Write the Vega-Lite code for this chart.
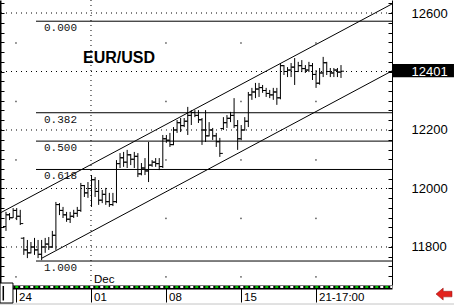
{
  "$schema": "https://vega.github.io/schema/vega-lite/v6.json",
  "width": 392,
  "height": 285,
  "autosize": "none",
  "padding": {"left": 0, "top": 0, "right": 62, "bottom": 20},
  "background": "white",
  "config": {"view": {"stroke": null}},
  "datasets": {
    "ohlc": [
      {"i":0,"o":11870,"h":11920,"l":11855,"c":11910},
      {"i":1,"o":11910,"h":11916,"l":11892,"c":11900},
      {"i":2,"o":11900,"h":11933,"l":11899,"c":11925},
      {"i":3,"o":11925,"h":11933,"l":11892,"c":11905},
      {"i":4,"o":11905,"h":11927,"l":11875,"c":11880},
      {"i":5,"o":11830,"h":11834,"l":11773,"c":11790},
      {"i":6,"o":11790,"h":11824,"l":11762,"c":11780},
      {"i":7,"o":11780,"h":11817,"l":11778,"c":11800},
      {"i":8,"o":11800,"h":11831,"l":11773,"c":11790},
      {"i":9,"o":11790,"h":11824,"l":11762,"c":11775},
      {"i":10,"o":11775,"h":11824,"l":11755,"c":11800},
      {"i":11,"o":11800,"h":11831,"l":11780,"c":11810},
      {"i":12,"o":11810,"h":11834,"l":11790,"c":11800},
      {"i":13,"o":11800,"h":11855,"l":11797,"c":11840},
      {"i":14,"o":11840,"h":11954,"l":11790,"c":11945},
      {"i":15,"o":11945,"h":11950,"l":11909,"c":11925},
      {"i":16,"o":11925,"h":11937,"l":11899,"c":11910},
      {"i":17,"o":11910,"h":11920,"l":11886,"c":11895},
      {"i":18,"o":11895,"h":11920,"l":11882,"c":11905},
      {"i":19,"o":11905,"h":11927,"l":11899,"c":11915},
      {"i":20,"o":11915,"h":11937,"l":11903,"c":11925},
      {"i":21,"o":11925,"h":12019,"l":11920,"c":12010},
      {"i":22,"o":12010,"h":12012,"l":11971,"c":11985},
      {"i":23,"o":11985,"h":12022,"l":11968,"c":12000},
      {"i":24,"o":12000,"h":12046,"l":11937,"c":12030},
      {"i":25,"o":12030,"h":12039,"l":11971,"c":11990},
      {"i":26,"o":11990,"h":12029,"l":11944,"c":11960},
      {"i":27,"o":11960,"h":11995,"l":11950,"c":11980},
      {"i":28,"o":11980,"h":12002,"l":11944,"c":11955},
      {"i":29,"o":11955,"h":11985,"l":11937,"c":11945},
      {"i":30,"o":11945,"h":11985,"l":11940,"c":11955},
      {"i":31,"o":11955,"h":12097,"l":11950,"c":12085},
      {"i":32,"o":12085,"h":12121,"l":12070,"c":12105},
      {"i":33,"o":12105,"h":12125,"l":12074,"c":12090},
      {"i":34,"o":12090,"h":12132,"l":12070,"c":12115},
      {"i":35,"o":12115,"h":12118,"l":12080,"c":12100},
      {"i":36,"o":12100,"h":12125,"l":12070,"c":12110},
      {"i":37,"o":12110,"h":12121,"l":12039,"c":12050},
      {"i":38,"o":12050,"h":12087,"l":12045,"c":12070},
      {"i":39,"o":12070,"h":12104,"l":12046,"c":12060},
      {"i":40,"o":12060,"h":12159,"l":12022,"c":12080},
      {"i":41,"o":12080,"h":12097,"l":12074,"c":12090},
      {"i":42,"o":12090,"h":12104,"l":12074,"c":12085},
      {"i":43,"o":12085,"h":12104,"l":12063,"c":12075},
      {"i":44,"o":12075,"h":12183,"l":12070,"c":12170},
      {"i":45,"o":12170,"h":12183,"l":12156,"c":12165},
      {"i":46,"o":12165,"h":12190,"l":12142,"c":12150},
      {"i":47,"o":12150,"h":12210,"l":12148,"c":12200},
      {"i":48,"o":12200,"h":12234,"l":12190,"c":12225},
      {"i":49,"o":12225,"h":12241,"l":12193,"c":12215},
      {"i":50,"o":12215,"h":12241,"l":12210,"c":12230},
      {"i":51,"o":12230,"h":12279,"l":12183,"c":12250},
      {"i":52,"o":12250,"h":12268,"l":12217,"c":12260},
      {"i":53,"o":12260,"h":12268,"l":12244,"c":12250},
      {"i":54,"o":12250,"h":12268,"l":12224,"c":12235},
      {"i":55,"o":12235,"h":12241,"l":12149,"c":12200},
      {"i":56,"o":12200,"h":12268,"l":12159,"c":12180},
      {"i":57,"o":12180,"h":12227,"l":12178,"c":12200},
      {"i":58,"o":12200,"h":12207,"l":12166,"c":12180},
      {"i":59,"o":12180,"h":12190,"l":12142,"c":12160},
      {"i":60,"o":12160,"h":12173,"l":12108,"c":12120},
      {"i":61,"o":12205,"h":12244,"l":12200,"c":12225},
      {"i":62,"o":12225,"h":12251,"l":12207,"c":12240},
      {"i":63,"o":12240,"h":12262,"l":12227,"c":12250},
      {"i":64,"o":12250,"h":12309,"l":12207,"c":12215},
      {"i":65,"o":12215,"h":12234,"l":12132,"c":12170},
      {"i":66,"o":12170,"h":12217,"l":12165,"c":12200},
      {"i":67,"o":12200,"h":12244,"l":12198,"c":12230},
      {"i":68,"o":12230,"h":12330,"l":12210,"c":12320},
      {"i":69,"o":12320,"h":12344,"l":12303,"c":12330},
      {"i":70,"o":12330,"h":12361,"l":12309,"c":12340},
      {"i":71,"o":12340,"h":12361,"l":12313,"c":12345},
      {"i":72,"o":12345,"h":12354,"l":12327,"c":12335},
      {"i":73,"o":12335,"h":12344,"l":12313,"c":12325},
      {"i":74,"o":12325,"h":12337,"l":12309,"c":12320},
      {"i":75,"o":12320,"h":12344,"l":12303,"c":12330},
      {"i":76,"o":12330,"h":12344,"l":12286,"c":12310},
      {"i":77,"o":12310,"h":12429,"l":12305,"c":12420},
      {"i":78,"o":12420,"h":12422,"l":12388,"c":12400},
      {"i":79,"o":12400,"h":12415,"l":12381,"c":12405},
      {"i":80,"o":12405,"h":12429,"l":12381,"c":12415},
      {"i":81,"o":12415,"h":12446,"l":12354,"c":12400},
      {"i":82,"o":12400,"h":12433,"l":12398,"c":12420},
      {"i":83,"o":12420,"h":12439,"l":12398,"c":12410},
      {"i":84,"o":12410,"h":12422,"l":12395,"c":12405},
      {"i":85,"o":12405,"h":12433,"l":12398,"c":12420},
      {"i":86,"o":12420,"h":12429,"l":12371,"c":12390},
      {"i":87,"o":12390,"h":12405,"l":12344,"c":12360},
      {"i":88,"o":12360,"h":12412,"l":12355,"c":12395},
      {"i":89,"o":12395,"h":12450,"l":12381,"c":12430},
      {"i":90,"o":12430,"h":12433,"l":12388,"c":12400},
      {"i":91,"o":12400,"h":12412,"l":12381,"c":12395},
      {"i":92,"o":12395,"h":12412,"l":12381,"c":12405},
      {"i":93,"o":12405,"h":12412,"l":12381,"c":12398},
      {"i":94,"o":12398,"h":12422,"l":12378,"c":12401}
    ],
    "grid": [{"v":11800},{"v":12000},{"v":12200},{"v":12400},{"v":12600}],
    "monthline": [{"i":23.85}],
    "weeklines": [{"i":2.806},{"i":44.89},{"i":65.94},{"i":86.98}],
    "fib": [
      {"x1":8.42,"x2":108.31,"v":12572,"label":"0.000"},
      {"x1":8.42,"x2":108.31,"v":12259,"label":"0.382"},
      {"x1":8.42,"x2":108.31,"v":12162,"label":"0.500"},
      {"x1":8.42,"x2":108.31,"v":12065,"label":"0.618"},
      {"x1":8.42,"x2":108.31,"v":11752,"label":"1.000"}
    ],
    "channel": [
      {"x1":-1.683,"y1":11916,"x2":108.31,"y2":12631},
      {"x1":10.1,"y1":11762,"x2":108.31,"y2":12402}
    ],
    "title": [{"i":21.6,"v":12429,"label":"EUR/USD"}],
    "month": [{"i":24.69,"v":11677,"label":"Dec"}],
    "pricebox": [{"x1":108.35,"x2":125.7,"y1":12380.2,"y2":12425.7}],
    "scrollbox": [{"x1":-1.683,"x2":1.96,"y1":11608.4,"y2":11676.8}],
    "arrow": [{"i":122.9,"v":11639}]
  },
  "layer": [
    {
      "data": {"name": "grid"},
      "mark": {"type": "rule", "stroke": "black", "strokeWidth": 1, "strokeDash": [1, 4]},
      "encoding": {
        "y": {"field": "v", "type": "quantitative",
          "scale": {"domain": [11670, 12644.5], "nice": false, "zero": false},
          "axis": {"orient": "left", "title": null, "labels": false, "grid": false,
            "domain": true, "domainColor": "black", "domainWidth": 2,
            "ticks": true, "tickColor": "black", "tickSize": -4,
            "values": [11700,11733.3,11766.7,11800,11833.3,11866.7,11900,11933.3,11966.7,12000,12033.3,12066.7,12100,12133.3,12166.7,12200,12233.3,12266.7,12300,12333.3,12366.7,12400,12433.3,12466.7,12500,12533.3,12566.7,12600,12633.3]}}
      }
    },
    {
      "data": {"name": "monthline"},
      "mark": {"type": "rule", "stroke": "black", "strokeWidth": 1, "strokeDash": [1, 4]},
      "encoding": {
        "x": {"field": "i", "type": "quantitative",
          "scale": {"domain": [-1.683, 108.31], "nice": false, "zero": false},
          "axis": {"orient": "bottom", "title": null, "grid": false, "offset": 2,
            "domain": true, "domainColor": "black", "domainWidth": 4,
            "ticks": true, "tickColor": "black", "tickSize": 15, "tickWidth": 1,
            "values": [2.806, 23.85, 44.89, 65.94, 86.98],
            "labelExpr": "datum.value < 5 ? '24' : datum.value < 30 ? '01' : datum.value < 50 ? '08' : datum.value < 70 ? '15' : '21-17:00'",
            "labelAlign": "left", "labelBaseline": "top", "labelPadding": -11, "labelOffset": 2.5,
            "labelFont": "Liberation Sans", "labelFontSize": 11.5, "labelColor": "black",
            "labelOverlap": false, "labelFlush": false, "labelBound": false}}
      }
    },
    {
      "data": {"name": "weeklines"},
      "mark": {"type": "rule", "stroke": "black", "strokeWidth": 1, "strokeDash": [1.5, 56.97]},
      "encoding": {
        "x": {"field": "i", "type": "quantitative",
          "scale": {"domain": [-1.683, 108.31], "nice": false, "zero": false}, "axis": null},
        "y": {"datum": 12500, "type": "quantitative", "scale": {"domain": [11670, 12644.5], "nice": false, "zero": false}, "axis": null},
        "y2": {"datum": 11690}
      }
    },
    {
      "data": {"name": "fib"},
      "mark": {"type": "rule", "stroke": "black", "strokeWidth": 1},
      "encoding": {
        "x": {"field": "x1", "type": "quantitative",
          "scale": {"domain": [-1.683, 108.31], "nice": false, "zero": false}, "axis": null},
        "x2": {"field": "x2"},
        "y": {"field": "v", "type": "quantitative", "scale": {"domain": [11670, 12644.5], "nice": false, "zero": false}, "axis": null}
      }
    },
    {
      "data": {"name": "fib"},
      "mark": {"type": "text", "font": "Liberation Mono", "fontSize": 11, "fill": "#111", "align": "left", "baseline": "top", "dx": 8, "dy": 1},
      "encoding": {
        "x": {"field": "x1", "type": "quantitative",
          "scale": {"domain": [-1.683, 108.31], "nice": false, "zero": false}, "axis": null},
        "y": {"field": "v", "type": "quantitative", "scale": {"domain": [11670, 12644.5], "nice": false, "zero": false}, "axis": null},
        "text": {"field": "label"}
      }
    },
    {
      "data": {"name": "channel"},
      "mark": {"type": "rule", "stroke": "black", "strokeWidth": 1},
      "encoding": {
        "x": {"field": "x1", "type": "quantitative",
          "scale": {"domain": [-1.683, 108.31], "nice": false, "zero": false}, "axis": null},
        "x2": {"field": "x2"},
        "y": {"field": "y1", "type": "quantitative", "scale": {"domain": [11670, 12644.5], "nice": false, "zero": false}, "axis": null},
        "y2": {"field": "y2"}
      }
    },
    {
      "data": {"name": "ohlc"},
      "mark": {"type": "rule", "stroke": "black", "strokeWidth": 1},
      "encoding": {
        "x": {"field": "i", "type": "quantitative",
          "scale": {"domain": [-1.683, 108.31], "nice": false, "zero": false}, "axis": null},
        "y": {"field": "l", "type": "quantitative",
          "scale": {"domain": [11670, 12644.5], "nice": false, "zero": false},
          "axis": {"orient": "right", "title": null, "grid": false, "zindex": 1,
            "domain": true, "domainColor": "black", "domainWidth": 1,
            "ticks": true, "tickColor": "black", "tickSize": -4,
            "values": [11700,11733.3,11766.7,11800,11833.3,11866.7,11900,11933.3,11966.7,12000,12033.3,12066.7,12100,12133.3,12166.7,12200,12233.3,12266.7,12300,12333.3,12366.7,12400,12401,12433.3,12466.7,12500,12533.3,12566.7,12600,12633.3],
            "format": "d",
            "labelExpr": "indexof([11800, 12000, 12200, 12600, 12401], datum.value) >= 0 ? datum.label : ''",
            "labelFont": "Liberation Sans", "labelFontSize": 13, "labelPadding": 23,
            "labelAlign": "left", "labelBaseline": "middle",
            "labelColor": {"condition": {"test": "datum.value === 12401", "value": "white"}, "value": "black"},
            "labelOverlap": false, "labelFlush": false, "labelBound": false}},
        "y2": {"field": "h"}
      }
    },
    {
      "data": {"name": "ohlc"},
      "mark": {"type": "tick", "orient": "horizontal", "color": "black", "size": 3, "thickness": 1, "xOffset": -1.5, "opacity": 1},
      "encoding": {
        "x": {"field": "i", "type": "quantitative", "scale": {"domain": [-1.683, 108.31], "nice": false, "zero": false}, "axis": null},
        "y": {"field": "o", "type": "quantitative", "scale": {"domain": [11670, 12644.5], "nice": false, "zero": false}, "axis": null}
      }
    },
    {
      "data": {"name": "ohlc"},
      "mark": {"type": "tick", "orient": "horizontal", "color": "black", "size": 3, "thickness": 1, "xOffset": 1.5, "opacity": 1},
      "encoding": {
        "x": {"field": "i", "type": "quantitative", "scale": {"domain": [-1.683, 108.31], "nice": false, "zero": false}, "axis": null},
        "y": {"field": "c", "type": "quantitative", "scale": {"domain": [11670, 12644.5], "nice": false, "zero": false}, "axis": null}
      }
    },
    {
      "data": {"name": "title"},
      "mark": {"type": "text", "font": "Liberation Sans", "fontWeight": "bold", "fontSize": 16, "fill": "black", "align": "left", "baseline": "alphabetic"},
      "encoding": {
        "x": {"field": "i", "type": "quantitative", "scale": {"domain": [-1.683, 108.31], "nice": false, "zero": false}, "axis": null},
        "y": {"field": "v", "type": "quantitative", "scale": {"domain": [11670, 12644.5], "nice": false, "zero": false}, "axis": null},
        "text": {"field": "label"}
      }
    },
    {
      "data": {"name": "month"},
      "mark": {"type": "text", "font": "Liberation Sans", "fontSize": 11.5, "fill": "black", "align": "left", "baseline": "alphabetic"},
      "encoding": {
        "x": {"field": "i", "type": "quantitative", "scale": {"domain": [-1.683, 108.31], "nice": false, "zero": false}, "axis": null},
        "y": {"field": "v", "type": "quantitative", "scale": {"domain": [11670, 12644.5], "nice": false, "zero": false}, "axis": null},
        "text": {"field": "label"}
      }
    },
    {
      "data": {"values": [{"k": 1}]},
      "mark": {"type": "rule", "stroke": "white", "strokeWidth": 2, "strokeDash": [3, 7], "strokeCap": "butt"},
      "encoding": {
        "x": {"datum": 1.2, "type": "quantitative", "scale": {"domain": [-1.683, 108.31], "nice": false, "zero": false}, "axis": null},
        "x2": {"datum": 108.31},
        "y": {"datum": 11663.2, "type": "quantitative", "scale": {"domain": [11670, 12644.5], "nice": false, "zero": false}, "axis": null}
      }
    },
    {
      "data": {"values": [{"k": 1}]},
      "mark": {"type": "rule", "stroke": "#00d000", "strokeWidth": 2, "strokeDash": [3, 7], "strokeDashOffset": -5, "strokeCap": "butt"},
      "encoding": {
        "x": {"datum": 1.2, "type": "quantitative", "scale": {"domain": [-1.683, 108.31], "nice": false, "zero": false}, "axis": null},
        "x2": {"datum": 108.31},
        "y": {"datum": 11663.2, "type": "quantitative", "scale": {"domain": [11670, 12644.5], "nice": false, "zero": false}, "axis": null}
      }
    },
    {
      "data": {"values": [{"k": 1}]},
      "mark": {"type": "rule", "stroke": "#c4c4c4", "strokeWidth": 1},
      "encoding": {
        "x": {"datum": -1.683, "type": "quantitative", "scale": {"domain": [-1.683, 108.31], "nice": false, "zero": false}, "axis": null},
        "x2": {"datum": 125.7},
        "y": {"datum": 11605, "type": "quantitative", "scale": {"domain": [11670, 12644.5], "nice": false, "zero": false}, "axis": null}
      }
    },
    {
      "data": {"name": "scrollbox"},
      "mark": {"type": "rect", "fill": "white", "stroke": "black", "strokeWidth": 1},
      "encoding": {
        "x": {"field": "x1", "type": "quantitative", "scale": {"domain": [-1.683, 108.31], "nice": false, "zero": false}, "axis": null},
        "x2": {"field": "x2"},
        "y": {"field": "y1", "type": "quantitative", "scale": {"domain": [11670, 12644.5], "nice": false, "zero": false}, "axis": null},
        "y2": {"field": "y2"}
      }
    },
    {
      "data": {"values": [{"k": 1}]},
      "mark": {"type": "rule", "stroke": "black", "strokeWidth": 1.5},
      "encoding": {
        "x": {"datum": -0.76, "type": "quantitative", "scale": {"domain": [-1.683, 108.31], "nice": false, "zero": false}, "axis": null},
        "y": {"datum": 11666.6, "type": "quantitative", "scale": {"domain": [11670, 12644.5], "nice": false, "zero": false}, "axis": null},
        "y2": {"datum": 11617}
      }
    },
    {
      "data": {"name": "pricebox"},
      "mark": {"type": "rect", "fill": "black"},
      "encoding": {
        "x": {"field": "x1", "type": "quantitative", "scale": {"domain": [-1.683, 108.31], "nice": false, "zero": false}, "axis": null},
        "x2": {"field": "x2"},
        "y": {"field": "y1", "type": "quantitative", "scale": {"domain": [11670, 12644.5], "nice": false, "zero": false}, "axis": null},
        "y2": {"field": "y2"}
      }
    },
    {
      "data": {"name": "arrow"},
      "mark": {"type": "point", "filled": true, "fill": "#e3211c", "stroke": "#8a1010", "strokeWidth": 0.5, "opacity": 1, "size": 256,
        "shape": "M -1 0 L -0.1 -0.75 L -0.1 -0.35 L 1 -0.35 L 1 0.35 L -0.1 0.35 L -0.1 0.75 Z"},
      "encoding": {
        "x": {"field": "i", "type": "quantitative", "scale": {"domain": [-1.683, 108.31], "nice": false, "zero": false}, "axis": null},
        "y": {"field": "v", "type": "quantitative", "scale": {"domain": [11670, 12644.5], "nice": false, "zero": false}, "axis": null}
      }
    }
  ],
  "resolve": {"axis": {"x": "independent", "y": "independent"}}
}
